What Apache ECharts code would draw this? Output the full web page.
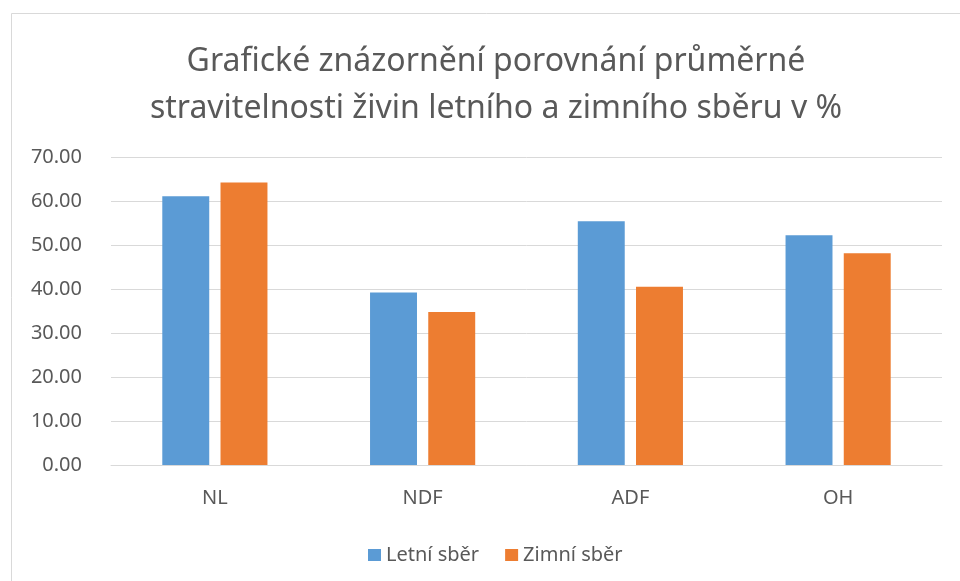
<!DOCTYPE html>
<html>
<head>
<meta charset="utf-8">
<script src="https://cdn.jsdelivr.net/npm/echarts@6/dist/echarts.min.js"></script>
<style>
  html, body { margin: 0; padding: 0; background: #fff; }
  #chart { width: 960px; height: 581px; }
</style>
</head>
<body>
<div id="chart"></div>
<script>
var categories = ['NL', 'NDF', 'ADF', 'OH'];
var letniSber = [61.1, 39.2, 55.4, 52.2];
var zimniSber = [64.2, 34.8, 40.5, 48.1];
var seriesNames = ['Letní sběr', 'Zimní sběr'];
var titleText = 'Grafické znázornění porovnání průměrné\nstravitelnosti živin letního a zimního sběru v %';

var chart = echarts.init(document.getElementById('chart'));
var font = '"Noto Sans", sans-serif';

var option = {
  backgroundColor: '#fff',
  animation: false,
  color: ['#5B9BD5', '#ED7D31'],
  graphic: [{
    type: 'rect',
    shape: { x: 11.5, y: 13.5, width: 1000, height: 1000 },
    style: { fill: 'none', stroke: '#d9d9d9', lineWidth: 1 },
    silent: true
  }],
  title: {
    text: titleText,
    left: 491,
    textAlign: 'center',
    top: 33,
    textStyle: {
      fontFamily: font,
      fontSize: 32,
      fontWeight: 'normal',
      color: '#595959',
      lineHeight: 47
    }
  },
  legend: {
    data: seriesNames,
    top: 540,
    left: 363,
    icon: 'rect',
    itemWidth: 13,
    itemHeight: 12,
    itemGap: 26,
    textStyle: { fontFamily: font, fontSize: 20, color: '#595959' }
  },
  grid: {
    left: 111,
    right: 18,
    top: 157,
    bottom: 116
  },
  xAxis: {
    type: 'category',
    data: categories,
    axisLine: { lineStyle: { color: '#d9d9d9', width: 1 } },
    axisTick: { show: false },
    axisLabel: { fontFamily: font, fontSize: 20, color: '#595959', margin: 23 }
  },
  yAxis: {
    type: 'value',
    min: 0,
    max: 70,
    interval: 10,
    axisLine: { show: false },
    axisTick: { show: false },
    splitLine: { lineStyle: { color: '#d9d9d9', width: 1 } },
    axisLabel: {
      fontFamily: font,
      fontSize: 20,
      color: '#595959',
      margin: 29,
      formatter: function (v) { return v.toFixed(2); }
    }
  },
  series: [{
    name: seriesNames[0],
    type: 'bar',
    data: letniSber,
    barWidth: '22.6%',
    barGap: '24%'
  }, {
    name: seriesNames[1],
    type: 'bar',
    data: zimniSber,
    barWidth: '22.6%'
  }]
};

chart.setOption(option);
</script>
</body>
</html>
